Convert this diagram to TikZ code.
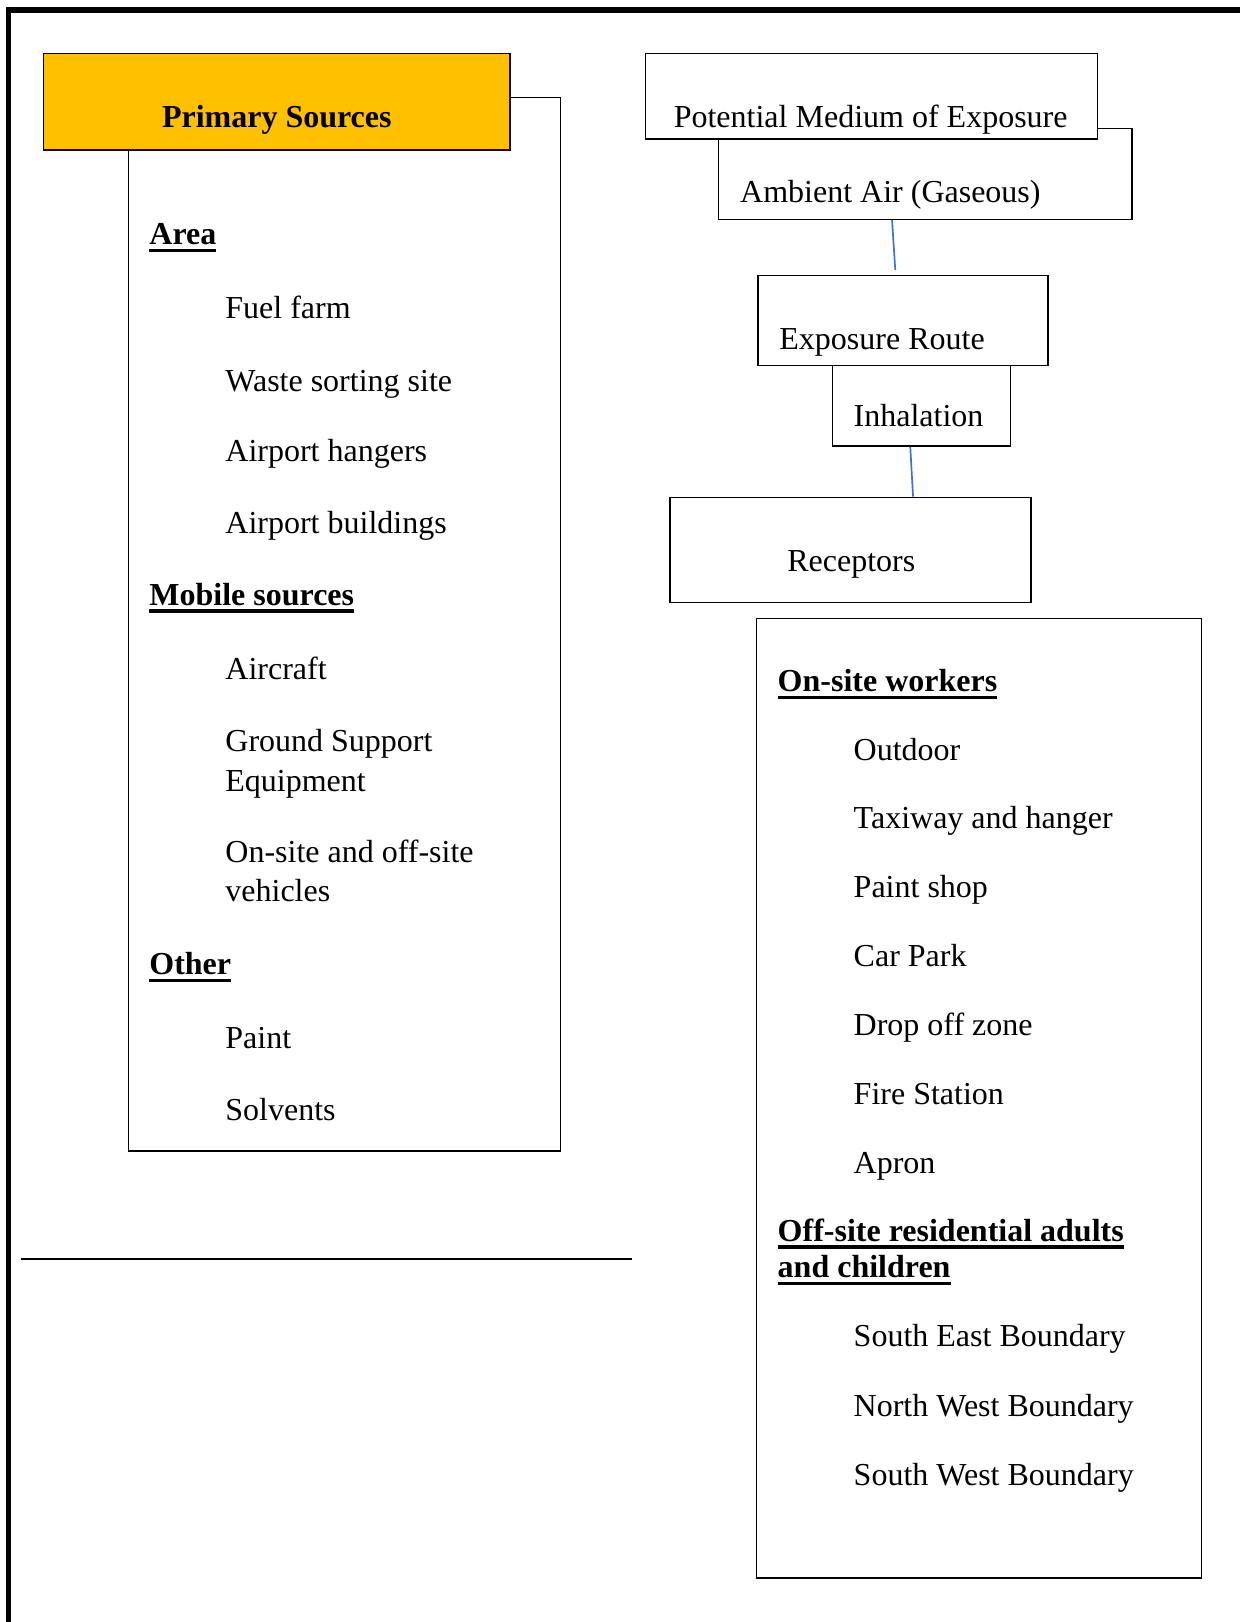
\documentclass[tikz,border=0pt]{standalone}
\usepackage{fontspec}
\setmainfont{Liberation Serif}
\usetikzlibrary{fit,calc}
\definecolor{primyellow}{HTML}{FFC000}
\definecolor{connblue}{HTML}{4472C4}
\newcommand{\ulb}[1]{\setbox0=\hbox{\bfseries #1}\rlap{\rule[-3.85pt]{\wd0}{1.65pt}}\box0}
\newcommand{\twol}[2]{\vtop{\hbox{#1}\hbox{#2}}}
\newcommand{\twolb}[2]{\vtop{\baselineskip=18.35pt\hbox{\ulb{#1}}\hbox{\ulb{#2}}}}
\begin{document}
\begin{tikzpicture}[x=0.5pt,y=-0.5pt,
  box/.style={draw=black, line width=0.75pt, inner sep=0pt, rectangle},
  txt/.style={anchor=base west, inner sep=0pt, font=\fontsize{16}{19.75}\selectfont},
  conn/.style={draw=connblue, line width=0.85pt}]
\useasboundingbox (0,0) rectangle (1240,1622);
\clip (0,0) rectangle (1240,1622);
% page frame
\draw[line width=2.75pt] (8.3,1700) -- (8.3,10) -- (1300,10);

% left: sources
\node[box, fit={(128.5,97.3) (560.7,1151)}] (srclist) {};
\node[box, fill=primyellow, fit={(43.5,53.3) (510,150)}] (prim) {};
\node[anchor=base, inner sep=0pt, font=\fontsize{16}{19.75}\selectfont\bfseries] (primt) at (276.8,127) {Primary Sources};

\node[txt] (area) at (149,244.3) {\ulb{Area}};
\node[txt] (fuel) at (225,318.3) {Fuel farm};
\node[txt] (waste) at (225,391) {Waste sorting site};
\node[txt] (hang) at (225,461.7) {Airport hangers};
\node[txt] (build) at (225,533.7) {Airport buildings};
\node[txt] (mobile) at (149,605) {\ulb{Mobile sources}};
\node[txt] (aircraft) at (225,679.3) {Aircraft};
\node[txt] (gse) at (225,751.7) {\twol{Ground Support}{Equipment}};
\node[txt] (veh) at (225,862) {\twol{On-site and off-site}{vehicles}};
\node[txt] (other) at (149,974.3) {\ulb{Other}};
\node[txt] (paint) at (225,1048.3) {Paint};
\node[txt] (solv) at (225,1120.3) {Solvents};

\draw[line width=1pt] (21,1259) -- (632,1259);

% right: pathway
\node[box, fit={(718.5,128.7) (1132,219.3)}] (amb) {};
\node[box, fill=white, fit={(645.7,53.3) (1097.3,139)}] (pme) {};
\node[txt] (pmet) at (673.4,127) {Potential Medium of Exposure};
\node[txt] (ambt) at (739.8,202.7) {Ambient Air (Gaseous)};

\node[box, fit={(758,275.7) (1047.8,365.7)}] (er) {};
\node[txt] (ert) at (779,349.3) {Exposure Route};
\node[box, fit={(832.7,365.7) (1010.7,446)}] (inh) {};
\node[txt] (inht) at (853.3,426.7) {Inhalation};

\node[box, fit={(669.8,497.3) (1030.8,602.3)}] (rec) {};
\node[txt] (rect) at (786.9,571) {Receptors};

\draw[conn] ($(amb.south west)+(174.3,0)$) -- ($(er.north west)+(138,-5)$);
\draw[conn] ($(inh.south west)+(78.3,0)$) -- ($(rec.north west)+(244,0)$);

% receptors list
\node[box, fit={(756.6,618.3) (1201.7,1578.2)}] (reclist) {};
\node[txt] (onsite) at (777.3,691.7) {\ulb{On-site workers}};
\node[txt] (outd) at (853.3,760.3) {Outdoor};
\node[txt] (taxi) at (853.3,828.3) {Taxiway and hanger};
\node[txt] (pshop) at (853.3,897) {Paint shop};
\node[txt] (carp) at (853.3,966) {Car Park};
\node[txt] (drop) at (853.3,1035) {Drop off zone};
\node[txt] (fire) at (853.3,1104.3) {Fire Station};
\node[txt] (apron) at (853.3,1173.3) {Apron};
\node[txt] (offsite) at (777.3,1241) {\twolb{Off-site residential adults}{and children}};
\node[txt] (seb) at (853.3,1346.7) {South East Boundary};
\node[txt] (nwb) at (853.3,1416) {North West Boundary};
\node[txt] (swb) at (853.3,1485.3) {South West Boundary};
\end{tikzpicture}
\end{document}
